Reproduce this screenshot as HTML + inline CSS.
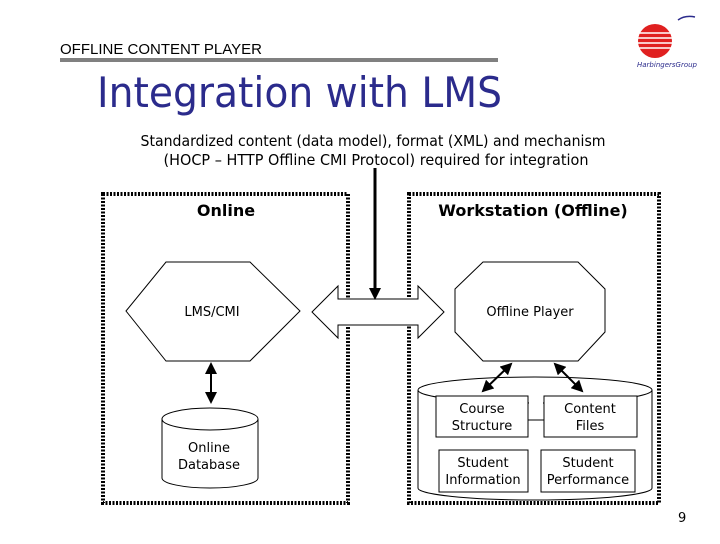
<!DOCTYPE html>
<html><head><style>
body{margin:0;width:720px;height:540px;background:#fff;overflow:hidden;font-family:"DejaVu Sans","Liberation Sans",sans-serif}
</style></head><body>
<svg width="720" height="540" viewBox="0 0 720 540" xmlns="http://www.w3.org/2000/svg" font-family="'DejaVu Sans','Liberation Sans',sans-serif">
<defs>
<marker id="ah" markerWidth="6" markerHeight="6" refX="5" refY="3" orient="auto-start-reverse" markerUnits="strokeWidth"><path d="M0,0 L6,3 L0,6 z" fill="#000"/></marker>
</defs>
<text x="60" y="54" font-family="'Liberation Sans',sans-serif" font-size="15">OFFLINE CONTENT PLAYER</text>
<rect x="60" y="58" width="438" height="4" fill="#808080"/>
<text x="97" y="107" font-size="42" fill="#2b2b8c" font-family="'DejaVu Sans Condensed','DejaVu Sans',sans-serif" textLength="405" lengthAdjust="spacingAndGlyphs">Integration with LMS</text>
<text x="373" y="146" font-size="15" text-anchor="middle" textLength="465" lengthAdjust="spacingAndGlyphs">Standardized content (data model), format (XML) and mechanism</text>
<text x="376" y="165" font-size="15" text-anchor="middle" textLength="425" lengthAdjust="spacingAndGlyphs">(HOCP – HTTP Offline CMI Protocol) required for integration</text>
<!-- logo -->
<circle cx="655" cy="41" r="17" fill="#e02020"/>
<g stroke="#fff" stroke-width="1.6"><line x1="636" y1="33" x2="674" y2="33"/><line x1="636" y1="38" x2="674" y2="38"/><line x1="636" y1="43" x2="674" y2="43"/><line x1="636" y1="48" x2="674" y2="48"/></g>
<path d="M678 20 Q685 15 695 17" stroke="#2b2b8c" fill="none" stroke-width="1.5"/>
<text x="637" y="67" font-size="7" fill="#2b2b8c" font-style="italic">HarbingersGroup</text>
<!-- boxes -->
<rect x="103" y="194" width="245" height="309" fill="none" stroke="#000" stroke-width="4" stroke-dasharray="2,1.5"/>
<rect x="409" y="194" width="250" height="309" fill="none" stroke="#000" stroke-width="4" stroke-dasharray="2,1.5"/>
<text x="226" y="216" font-size="16" font-weight="bold" text-anchor="middle">Online</text>
<text x="533" y="216" font-size="16" font-weight="bold" text-anchor="middle">Workstation (Offline)</text>
<polygon points="126,311 166,262 250,262 300,311 250,361 166,361" fill="#fff" stroke="#000" stroke-width="1"/>
<text x="212" y="316" font-size="13" text-anchor="middle">LMS/CMI</text>
<polygon points="455,289 483,262 578,262 605,289 605,332 578,361 483,361 455,332" fill="#fff" stroke="#000" stroke-width="1"/>
<text x="530" y="316" font-size="13" text-anchor="middle">Offline Player</text>
<!-- double arrow -->
<polygon points="312,312 338,286 338,299 418,299 418,286 444,312 418,338 418,325 338,325 338,338" fill="#fff" stroke="#000" stroke-width="1"/>
<line x1="375" y1="168" x2="375" y2="290" stroke="#000" stroke-width="3"/>
<polygon points="369,288 381,288 375,300" fill="#000"/>
<line x1="211" y1="364" x2="211" y2="402" stroke="#000" stroke-width="2" marker-start="url(#ah)" marker-end="url(#ah)"/>
<!-- left cylinder -->
<path d="M162,419 L162,478 A48,10 0 0 0 258,478 L258,419" fill="#fff" stroke="#000"/>
<ellipse cx="210" cy="419" rx="48" ry="11" fill="#fff" stroke="#000"/>
<text x="209" y="452" font-size="13" text-anchor="middle">Online</text>
<text x="209" y="469" font-size="13" text-anchor="middle">Database</text>
<!-- right cylinder -->
<path d="M418,390 L418,488 A117,12 0 0 0 652,488 L652,390" fill="#fff" stroke="#000"/>
<ellipse cx="535" cy="390" rx="117" ry="13" fill="#fff" stroke="#000"/>
<rect x="529" y="398" width="14" height="16" fill="#fff"/>
<line x1="528" y1="420" x2="544" y2="420" stroke="#000"/>
<rect x="436" y="396" width="92" height="41" fill="#fff" stroke="#000"/>
<rect x="544" y="396" width="93" height="41" fill="#fff" stroke="#000"/>
<rect x="439" y="450" width="89" height="42" fill="#fff" stroke="#000"/>
<rect x="541" y="450" width="94" height="42" fill="#fff" stroke="#000"/>
<g font-size="13" text-anchor="middle">
<text x="482" y="413">Course</text><text x="482" y="430">Structure</text>
<text x="590" y="413">Content</text><text x="590" y="430">Files</text>
<text x="483" y="467">Student</text><text x="483" y="484">Information</text>
<text x="588" y="467">Student</text><text x="588" y="484">Performance</text>
</g>
<line x1="511" y1="364" x2="483" y2="391" stroke="#000" stroke-width="2" marker-start="url(#ah)" marker-end="url(#ah)"/>
<line x1="555" y1="364" x2="582" y2="391" stroke="#000" stroke-width="2" marker-start="url(#ah)" marker-end="url(#ah)"/>
<text x="678" y="522" font-size="13">9</text>
</svg>
</body></html>
